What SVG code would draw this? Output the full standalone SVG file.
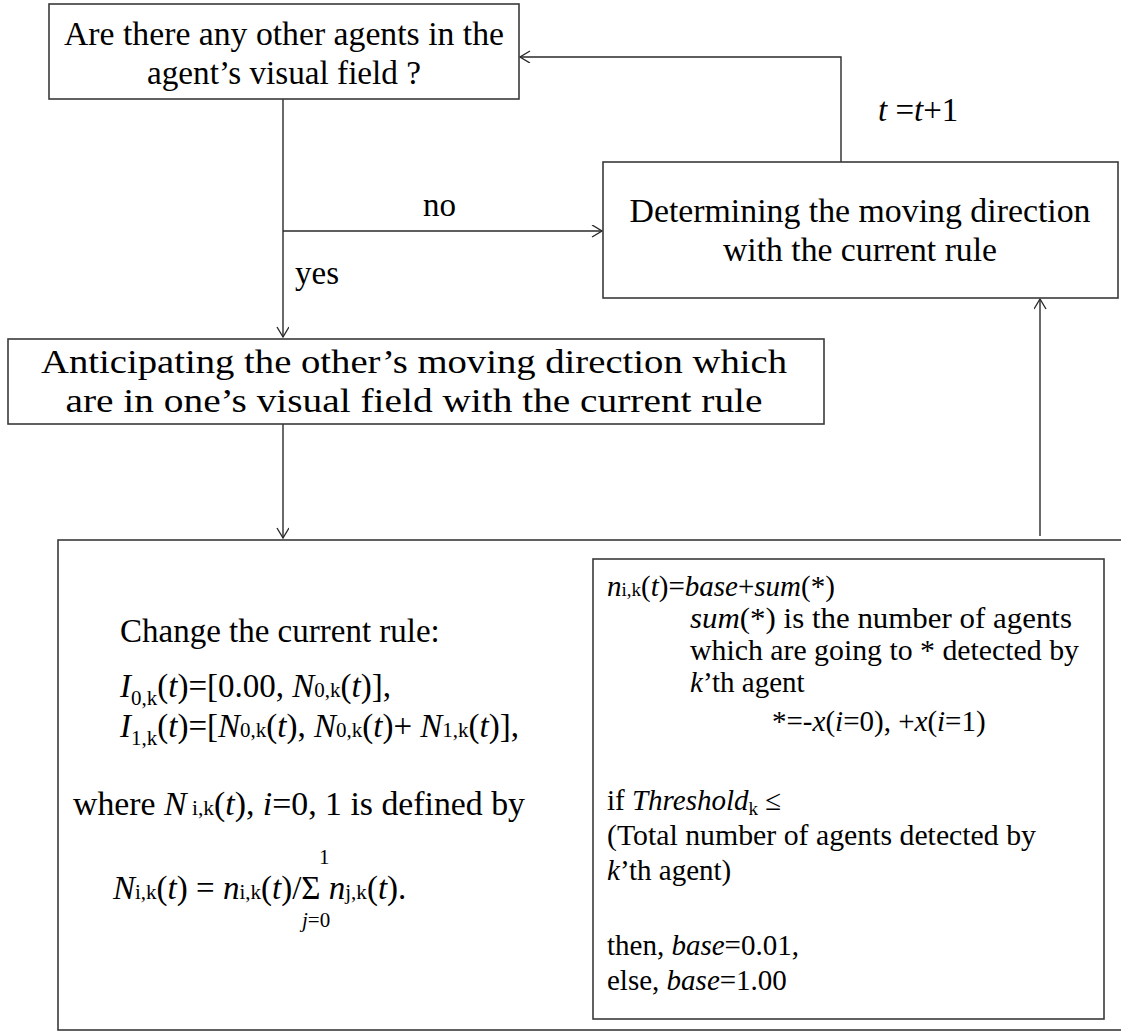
<svg xmlns="http://www.w3.org/2000/svg" width="1121" height="1032" viewBox="0 0 1121 1032">
<style>
.box{fill:#fff;stroke:#3a3a3a;stroke-width:1.6}
.ln{fill:none;stroke:#2a2a2a;stroke-width:1.4}
text{font-family:"Liberation Serif","Times New Roman",serif;fill:#000}
.t33{font-size:33px}
.t29{font-size:29px}
.it{font-style:italic}
.sub{font-size:21px}
.sub2{font-size:19px}
</style>
<defs>
<marker id="arr" markerWidth="14" markerHeight="14" refX="11" refY="6" orient="auto" markerUnits="userSpaceOnUse">
<path d="M1,0 L11,6 L1,12" fill="none" stroke="#2a2a2a" stroke-width="1.4"/>
</marker>
</defs>
<rect width="1121" height="1032" fill="#fff"/>

<g id="connectors">
<path class="ln" d="M283,99 V337" marker-end="url(#arr)"/>
<path class="ln" d="M283,231 H602" marker-end="url(#arr)"/>
<path class="ln" d="M841,162 V57 H520" marker-end="url(#arr)"/>
<path class="ln" d="M283,424 V538" marker-end="url(#arr)"/>
<path class="ln" d="M1040,536 V299" marker-end="url(#arr)"/>
<text class="t33" x="423" y="216">no</text>
<text class="t33" x="295" y="284">yes</text>
<text class="t33" x="878" y="121"><tspan class="it">t</tspan> =<tspan class="it">t</tspan>+1</text>
</g>

<g id="node-question">
<rect class="box" x="49" y="4" width="470" height="95"/>
<text class="t33" x="284" y="45" text-anchor="middle" textLength="440" lengthAdjust="spacingAndGlyphs">Are there any other agents in the</text>
<text class="t33" x="284" y="84" text-anchor="middle" textLength="274" lengthAdjust="spacingAndGlyphs">agent’s visual field ?</text>
</g>

<g id="node-determine">
<rect class="box" x="603" y="162" width="515" height="136"/>
<text class="t33" x="860" y="222" text-anchor="middle" textLength="461" lengthAdjust="spacingAndGlyphs">Determining the moving direction</text>
<text class="t33" x="860" y="261" text-anchor="middle" textLength="274" lengthAdjust="spacingAndGlyphs">with the current rule</text>
</g>

<g id="node-anticipate">
<rect class="box" x="8" y="339" width="816" height="85"/>
<text class="t33" x="414" y="373" text-anchor="middle" textLength="746" lengthAdjust="spacingAndGlyphs">Anticipating the other’s moving direction which</text>
<text class="t33" x="414" y="412" text-anchor="middle" textLength="697" lengthAdjust="spacingAndGlyphs">are in one’s visual field with the current rule</text>
</g>

<g id="node-change">
<rect class="box" x="58" y="540" width="1080" height="490"/>
<text class="t33" x="120" y="642">Change the current rule:</text>
<text class="t33" x="120" y="697"><tspan class="it">I</tspan><tspan class="sub" dy="8">0,k</tspan><tspan dy="-8">(</tspan><tspan class="it">t</tspan>)=[0.00, <tspan class="it">N</tspan><tspan class="sub">0,k</tspan>(<tspan class="it">t</tspan>)],</text>
<text class="t33" x="120" y="737"><tspan class="it">I</tspan><tspan class="sub" dy="8">1,k</tspan><tspan dy="-8">(</tspan><tspan class="it">t</tspan>)=[<tspan class="it">N</tspan><tspan class="sub">0,k</tspan>(<tspan class="it">t</tspan>), <tspan class="it">N</tspan><tspan class="sub">0,k</tspan>(<tspan class="it">t</tspan>)+ <tspan class="it">N</tspan><tspan class="sub">1,k</tspan>(<tspan class="it">t</tspan>)],</text>
<text class="t33" x="73" y="815" textLength="452" lengthAdjust="spacingAndGlyphs">where <tspan class="it">N</tspan><tspan class="sub"> i,k</tspan>(<tspan class="it">t</tspan>), <tspan class="it">i</tspan>=0, 1 is defined by</text>
<text class="sub" x="319" y="864">1</text>
<text class="t33" x="113" y="899"><tspan class="it">N</tspan><tspan class="sub">i,k</tspan>(<tspan class="it">t</tspan>) = <tspan class="it">n</tspan><tspan class="sub">i,k</tspan>(<tspan class="it">t</tspan>)/Σ <tspan class="it">n</tspan><tspan class="sub">j,k</tspan>(<tspan class="it">t</tspan>).</text>
<text class="sub" x="302" y="927"><tspan class="it">j</tspan>=0</text>
</g>

<g id="node-rule">
<rect class="box" x="593" y="559" width="511" height="460"/>
<text class="t29" x="607" y="596"><tspan class="it">n</tspan><tspan class="sub2">i,k</tspan>(<tspan class="it">t</tspan>)=<tspan class="it">base</tspan>+<tspan class="it">sum</tspan>(*)</text>
<text class="t29" x="690" y="628" textLength="382" lengthAdjust="spacingAndGlyphs"><tspan class="it">sum</tspan>(*) is the number of agents</text>
<text class="t29" x="690" y="660" textLength="389" lengthAdjust="spacingAndGlyphs">which are going to * detected by</text>
<text class="t29" x="690" y="692"><tspan class="it">k</tspan>’th agent</text>
<text class="t29" x="772" y="731">*=-<tspan class="it">x</tspan>(<tspan class="it">i</tspan>=0), +<tspan class="it">x</tspan>(<tspan class="it">i</tspan>=1)</text>
<text class="t29" x="607" y="810">if <tspan class="it">Threshold</tspan><tspan class="sub2" dy="5">k</tspan><tspan dy="-5"> ≤</tspan></text>
<text class="t29" x="607" y="845" textLength="429" lengthAdjust="spacingAndGlyphs">(Total number of agents detected by</text>
<text class="t29" x="607" y="880"><tspan class="it">k</tspan>’th agent)</text>
<text class="t29" x="607" y="955">then, <tspan class="it">base</tspan>=0.01,</text>
<text class="t29" x="607" y="990">else, <tspan class="it">base</tspan>=1.00</text>
</g>
</svg>
